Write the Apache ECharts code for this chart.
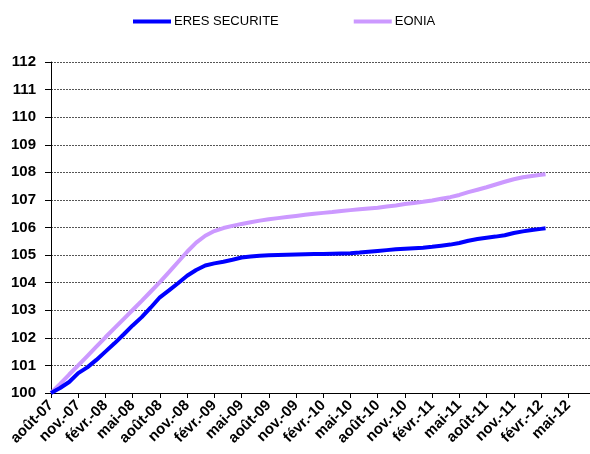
<!DOCTYPE html>
<html>
<head>
<meta charset="utf-8">
<script src="https://cdn.jsdelivr.net/npm/echarts@6/dist/echarts.min.js"></script>
<style>
html,body{margin:0;padding:0;background:#fff;}
#chart{width:590px;height:454px;}
</style>
</head>
<body>
<div id="chart"></div>
<script>
// Month index from août-07 (0 = août-07)
var months = [0,1,2,3,4,5,6,7,8,9,10,11,12,13,14,15,16,17,18,19,20,21,22,23,24,25,26,27,28,29,30,31,32,33,34,35,36,37,38,39,40,41,42,43,44,45,46,47,48,49,50,51,52,53,54,54.5];
var eresSecurite = [100.00,100.18,100.40,100.72,100.93,101.20,101.50,101.80,102.12,102.45,102.75,103.10,103.47,103.72,103.98,104.25,104.46,104.62,104.70,104.76,104.83,104.91,104.95,104.98,104.99,105.00,105.01,105.02,105.03,105.04,105.04,105.05,105.06,105.07,105.09,105.12,105.15,105.18,105.21,105.23,105.25,105.27,105.30,105.34,105.38,105.44,105.52,105.58,105.63,105.67,105.72,105.80,105.86,105.91,105.95,105.97];
var eonia = [100.00,100.33,100.67,101.00,101.34,101.68,102.02,102.35,102.68,103.01,103.34,103.68,104.02,104.38,104.75,105.12,105.45,105.70,105.87,105.98,106.06,106.13,106.19,106.25,106.30,106.34,106.38,106.42,106.46,106.50,106.53,106.56,106.60,106.63,106.66,106.69,106.72,106.76,106.80,106.85,106.89,106.93,106.98,107.04,107.10,107.18,107.28,107.37,107.46,107.56,107.66,107.75,107.82,107.87,107.91,107.93];
var tickLabels = ['août-07','nov.-07','févr.-08','mai-08','août-08','nov.-08','févr.-09','mai-09','août-09','nov.-09','févr.-10','mai-10','août-10','nov.-10','févr.-11','mai-11','août-11','nov.-11','févr.-12','mai-12'];
var seriesNames = ['ERES SECURITE','EONIA'];

function pairs(xs, ys){ return xs.map(function(x,i){ return [x, ys[i]]; }); }

var font = 'Arial, "Liberation Sans", sans-serif';
var chart = echarts.init(document.getElementById('chart'));
chart.setOption({
  animation: false,
  backgroundColor: '#fff',
  legend: {
    top: 10, left: 128,
    itemWidth: 38, itemHeight: 4, itemGap: 75,
    icon: 'rect',
    textStyle: {fontFamily: font, fontSize: 13, color: '#000', padding: [0,0,0,-2]},
    data: seriesNames
  },
  grid: {left: 51, right: 0, top: 62, bottom: 61, containLabel: false},
  xAxis: {
    type: 'value', min: 0, max: 59.4, interval: 3,
    axisLine: {show: true, lineStyle: {color: '#000', width: 1}},
    axisTick: {show: true, length: 5, lineStyle: {color: '#000'}},
    splitLine: {show: false},
    axisLabel: {
      rotate: 45, margin: 10, fontFamily: font, fontSize: 15, fontWeight: 'bold', color: '#000',
      showMaxLabel: false,
      formatter: function(v){ var i = Math.round(v/3); return tickLabels[i] || ''; }
    }
  },
  yAxis: {
    type: 'value', min: 100, max: 112, interval: 1,
    axisLine: {show: true, lineStyle: {color: '#000', width: 1}},
    axisTick: {show: true, length: 6, lineStyle: {color: '#000'}},
    splitLine: {show: true, lineStyle: {color: '#555', type: [2,1], width: 1}},
    axisLabel: {margin: 15, fontFamily: font, fontSize: 15, fontWeight: 'bold', color: '#000'}
  },
  series: [
    {name: seriesNames[0], type: 'line', data: pairs(months, eresSecurite), showSymbol: false, smooth: false,
     lineStyle: {color: '#0000FF', width: 4}, itemStyle: {color: '#0000FF'}, z: 3},
    {name: seriesNames[1], type: 'line', data: pairs(months, eonia), showSymbol: false, smooth: false,
     lineStyle: {color: '#CC99FF', width: 4}, itemStyle: {color: '#CC99FF'}, z: 2}
  ]
});
</script>
</body>
</html>
